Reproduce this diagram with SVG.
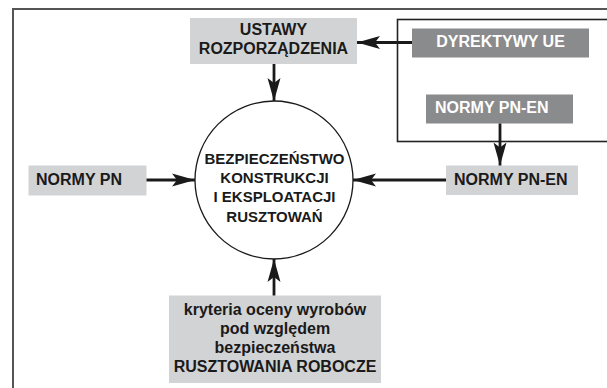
<svg xmlns="http://www.w3.org/2000/svg" width="607" height="388" viewBox="0 0 607 388">
<style>
  .lbl { font-family: "Liberation Sans", Arial, Helvetica, sans-serif; font-weight: bold; font-size: 16px; fill: #1a1a1a; }
  .wht { fill: #ffffff; }
  .mid { text-anchor: middle; }
  .light { fill: #d2d3d5; }
  .dark { fill: #8a8b8d; }
  .conn { stroke: #1a1a1a; stroke-width: 2.8; fill: none; }
</style>
<defs>
  <marker id="arr" markerUnits="userSpaceOnUse" markerWidth="24" markerHeight="15" refX="23" refY="7" orient="auto">
    <path d="M23,7 L0,0.5 L5,7 L0,13.5 Z" fill="#1a1a1a"/>
  </marker>
</defs>
<rect x="0" y="0" width="607" height="388" fill="#ffffff"/>
<rect id="frame" x="13" y="9" width="640" height="420" fill="none" stroke="#555555" stroke-width="2"/>

<g id="eu-group">
  <rect x="397.5" y="19.5" width="220" height="122" fill="#ffffff" stroke="#222222" stroke-width="1.6"/>
</g>

<g id="ustawy">
  <rect class="light" x="190" y="18" width="167" height="46"/>
  <text class="lbl mid" x="273.5" y="35">USTAWY</text>
  <text class="lbl mid" x="273.5" y="54">ROZPORZĄDZENIA</text>
</g>

<g id="dyrektywy">
  <rect class="dark" x="412" y="28.5" width="177" height="29"/>
  <text class="lbl wht mid" x="500.5" y="47">DYREKTYWY UE</text>
</g>

<g id="normy-pn-en-eu">
  <rect class="dark" x="426" y="94.5" width="147" height="29"/>
  <text class="lbl wht" x="435" y="112.5">NORMY PN-EN</text>
</g>

<g id="normy-pn-en">
  <rect class="light" x="446" y="165.5" width="132" height="29.5"/>
  <text class="lbl" x="454" y="184.5">NORMY PN-EN</text>
</g>

<g id="normy-pn">
  <rect class="light" x="28.5" y="165.5" width="118" height="30"/>
  <text class="lbl" x="36" y="185">NORMY PN</text>
</g>

<g id="center">
  <circle cx="274" cy="180" r="79" fill="#ffffff" stroke="#1a1a1a" stroke-width="1.3"/>
  <text class="lbl mid" style="font-size:15px" x="274.5" y="163.5">BEZPIECZEŃSTWO</text>
  <text class="lbl mid" style="font-size:15px" x="274.5" y="182.5">KONSTRUKCJI</text>
  <text class="lbl mid" style="font-size:15px" x="274.5" y="202">I EKSPLOATACJI</text>
  <text class="lbl mid" style="font-size:15px" x="274.5" y="221.5">RUSZTOWAŃ</text>
</g>

<g id="kryteria">
  <rect class="light" x="169" y="295.5" width="212" height="87.5"/>
  <text class="lbl mid" x="275" y="314.5">kryteria oceny wyrobów</text>
  <text class="lbl mid" x="275" y="333.5">pod względem</text>
  <text class="lbl mid" x="275" y="352.5">bezpieczeństwa</text>
  <text class="lbl mid" x="275" y="371.5">RUSZTOWANIA ROBOCZE</text>
</g>

<g id="connectors">
  <line class="conn" x1="412" y1="42.5" x2="357" y2="42.5" marker-end="url(#arr)"/>
  <line class="conn" x1="274" y1="64" x2="274" y2="101" marker-end="url(#arr)"/>
  <line class="conn" x1="146.5" y1="180" x2="195" y2="180" marker-end="url(#arr)"/>
  <line class="conn" x1="446" y1="180" x2="353" y2="180" marker-end="url(#arr)"/>
  <line class="conn" x1="500" y1="123.5" x2="500" y2="165.5" marker-end="url(#arr)"/>
  <line class="conn" x1="274" y1="295.5" x2="274" y2="259" marker-end="url(#arr)"/>
</g>
</svg>
